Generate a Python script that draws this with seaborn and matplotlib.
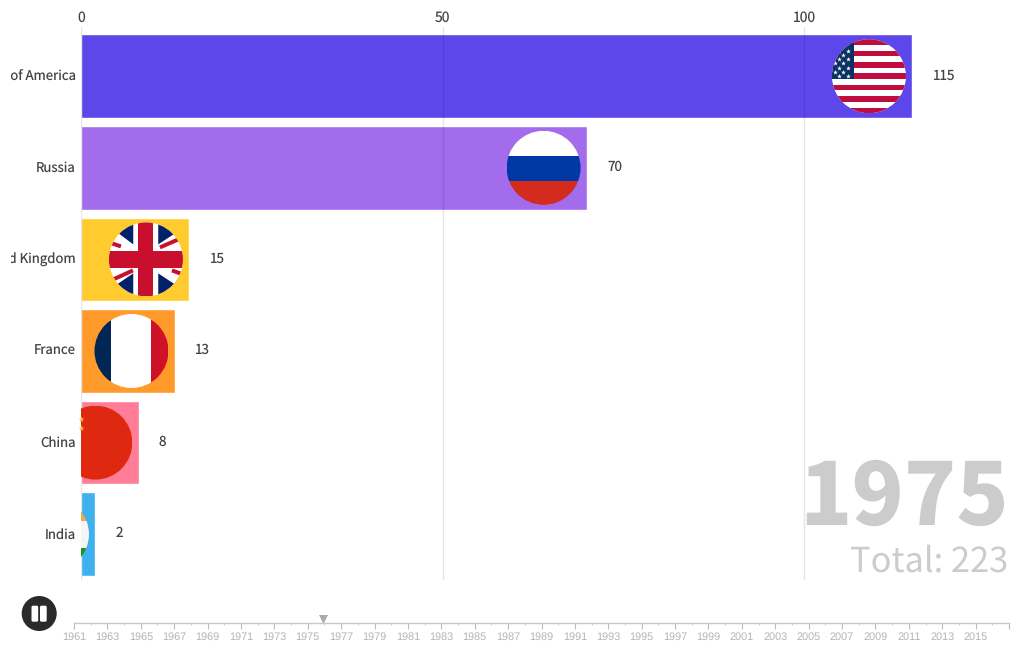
import matplotlib
matplotlib.use('Agg')
import matplotlib.pyplot as plt
from matplotlib.patches import Circle, Rectangle, FancyBboxPatch, Polygon
from matplotlib.transforms import Affine2D, Bbox
import pandas as pd
import seaborn as sns

countries = ['United States of America', 'Russia', 'United Kingdom', 'France', 'China', 'India']
values = [115, 70, 15, 13, 8, 2]
bar_colors = ['#5D47EA', '#A26CEC', '#FFCB2E', '#FF9A2B', '#FF7D96', '#3FB1EF']
x_ticks = [0, 50, 100]
current_year = 1975
year_marker = 1975.9
timeline_years = list(range(1961, 2016, 2))

sns.set_theme(style='white')
plt.rcParams['font.family'] = ['Noto Sans CJK JP', 'DejaVu Sans']
plt.rcParams['text.hinting'] = 'no_hinting'

W, H = 1020, 650
fig = plt.figure(figsize=(W / 100, H / 100), dpi=100)


def px_axes(left, top, right, bottom):
    return fig.add_axes([left / W, 1 - bottom / H, (right - left) / W, (bottom - top) / H])


# main bars
ax = px_axes(81, 27, 1009, 580)
df = pd.DataFrame({'country': countries, 'value': values})
sns.barplot(data=df, x='value', y='country', hue='country', palette=bar_colors,
            order=countries, hue_order=countries, width=0.912, saturation=1,
            legend=False, ax=ax)
ax.set_xlim(0, 928 / 7.23)
ax.set_ylim((580 - 76.2) / 91.6, (27 - 76.2) / 91.6)
ax.set_xlabel('')
ax.set_ylabel('')
sns.despine(ax=ax, left=True, right=True, top=True, bottom=True)
ax.set_xticks(x_ticks)
ax.xaxis.tick_top()
ax.tick_params(axis='x', length=0, pad=1.2, labelsize=10, labelcolor='#444444')
ax.tick_params(axis='y', length=0, pad=3.6, labelsize=9.5, labelcolor='#444444')
ax.grid(True, axis='x', color='black', alpha=0.1, lw=1)
ax.set_axisbelow(False)

# long names get cut off on the left like in the original
for tick in ax.yaxis.get_major_ticks():
    lab = tick.label1
    lab.set_verticalalignment('center_baseline')
    lab.set_transform(lab.get_transform() + Affine2D().translate(0, 1.2))
    lab.set_clip_box(Bbox([[11, 0], [81, H]]))
    lab.set_clip_on(True)

for cont in ax.containers:
    for t in ax.bar_label(cont, padding=14.5, fontsize=9.7, color='#444444'):
        t.set_verticalalignment('center_baseline')
        t.xyann = (t.xyann[0], t.xyann[1] + 1.6)

# overlay in pixel coords for flags and the play button
ov = fig.add_axes([0, 0, 1, 1], facecolor='none')
ov.set_xlim(0, W)
ov.set_ylim(H, 0)
ov.axis('off')
ov.autoscale(False)

R = 37


def flag_center(i):
    disp = ax.transData.transform((values[i], i))
    x, y = ov.transData.inverted().transform(disp)
    return x - 43.5, y


def new_flag(i):
    cx, cy = flag_center(i)
    circ = Circle((cx, cy), R, fc='none', ec='none', zorder=1)
    ov.add_patch(circ)
    return cx, cy, circ


def clip(artist, circ):
    artist.set_clip_path(circ)
    artist.set_clip_box(ax.bbox)


def band(cx, cy, circ, x0, y0, x1, y1, color, z=2):
    r = Rectangle((cx + x0, cy + y0), x1 - x0, y1 - y0, fc=color, ec='none', zorder=z)
    ov.add_patch(r)
    clip(r, circ)


def stroke(cx, cy, circ, p0, p1, color, w, z=3):
    ln, = ov.plot([cx + p0[0], cx + p1[0]], [cy + p0[1], cy + p1[1]], color=color,
                  lw=w * 0.72, solid_capstyle='butt', zorder=z)
    clip(ln, circ)


def tri(cx, cy, circ, pts, color, z=4):
    p = Polygon([(cx + a, cy + b) for a, b in pts], fc=color, ec='none', zorder=z)
    ov.add_patch(p)
    clip(p, circ)


# USA
cx, cy, c = new_flag(0)
band(cx, cy, c, -R, -R, R, R, 'white')
sh = 2 * R / 13
for k in range(0, 13, 2):
    band(cx, cy, c, -R, -R + k * sh, R, -R + (k + 1) * sh, '#BF0D3E', 3)
band(cx, cy, c, -R, -R, -15, -R + 7 * sh, '#0A3161', 4)
sx, sy = [], []
for row in range(7):
    for col in range(4):
        if (row + col) % 2 == 1:
            sx.append(cx - 34 + col * 4.2)
            sy.append(cy - 25.5 + row * 4.2)
st = ov.scatter(sx, sy, s=13, marker='*', color='white', linewidths=0, zorder=5)
clip(st, c)

# Russia
cx, cy, c = new_flag(1)
band(cx, cy, c, -R, -R, R, -12.3, 'white')
band(cx, cy, c, -R, -12.3, R, 12.7, '#0039A6')
band(cx, cy, c, -R, 12.7, R, R, '#D52B1E')

# UK
cx, cy, c = new_flag(2)
band(cx, cy, c, -R, -R, R, R, 'white')
navy = '#012169'
tri(cx, cy, c, [(-30, -28), (-12.7, -37), (-12.7, -15)], navy)
tri(cx, cy, c, [(12.3, -37), (29, -26), (12.3, -15)], navy)
tri(cx, cy, c, [(-12.7, 14), (-12.7, 37), (-29, 25)], navy)
tri(cx, cy, c, [(12.3, 14), (12.3, 37), (29, 25)], navy)
stroke(cx, cy, c, (-37, -17), (-25, -13), '#C8102E', 4)
stroke(cx, cy, c, (14, -12), (37, -22), '#C8102E', 4)
stroke(cx, cy, c, (-37, 22), (-13, 11), '#C8102E', 4)
stroke(cx, cy, c, (26, 11), (37, 15), '#C8102E', 4)
band(cx, cy, c, -7.5, -R, 7.5, R, '#C8102E', 5)
band(cx, cy, c, -R, -8.5, R, 8.5, '#C8102E', 5)

# France
cx, cy, c = new_flag(3)
band(cx, cy, c, -R, -R, -20, R, '#002654')
band(cx, cy, c, -20, -R, 20, R, 'white')
band(cx, cy, c, 20, -R, R, R, '#CE1126')

# China
cx, cy, c = new_flag(4)
band(cx, cy, c, -R, -R, R, R, '#DE2910')
st = ov.scatter([cx - 14, cx - 14], [cy - 24, cy - 15], s=20, marker='*', color='#F5C242',
                linewidths=0, zorder=3)
clip(st, c)

# India
cx, cy, c = new_flag(5)
band(cx, cy, c, -R, -R, R, -13, '#F0A94D')
band(cx, cy, c, -R, -13, R, 13.6, '#F7F5F3')
band(cx, cy, c, -R, 13.6, R, R, '#1C931C')

# big year and total
ov.text(1009.5, 525, str(current_year), ha='right', va='baseline', fontsize=62,
        fontweight=900, color='#CCCCCC', zorder=6)
ov.text(1008, 572, 'Total: %d' % sum(values), ha='right', va='baseline', fontsize=24.8,
        color='#CCCCCC', zorder=6)

# play button
ov.add_patch(Circle((39.2, 613.5), 17.5, fc='#2A2A2A', ec='none', zorder=6))
for x0 in (31.5, 40):
    ov.add_patch(FancyBboxPatch((x0 + 1.5, 607.2), 3.7, 13, boxstyle='round,pad=1.5',
                                fc='white', ec='none', zorder=7))

# timeline
tl = px_axes(74, 600, 1009, 623)
tl.set_xlim(1961, 2017)
tl.set_ylim(0, 23)
tl.patch.set_visible(False)
sns.despine(ax=tl, left=True, right=True, top=True, bottom=False)
tl.spines['bottom'].set_color('#C8C8C8')
tl.spines['bottom'].set_linewidth(1)
tl.set_yticks([])
tl.set_xticks(timeline_years + [2017])
tl.set_xticklabels([str(y) for y in timeline_years] + [''], fontsize=7.8,
                   family=['Liberation Sans'], color='#B4B4B4')
tl.set_xticks(list(range(1962, 2017, 2)), minor=True)
tl.tick_params(axis='x', which='major', bottom=True, length=4.2, width=0.8, color='#BBBBBB', pad=2)
tl.tick_params(axis='x', which='minor', bottom=True, length=1.5, width=0.7, color='#CCCCCC')
tl.scatter([year_marker], [4], s=42, marker='v', color='#AAAAAA', linewidths=0)

plt.savefig('out.png', dpi=100)
